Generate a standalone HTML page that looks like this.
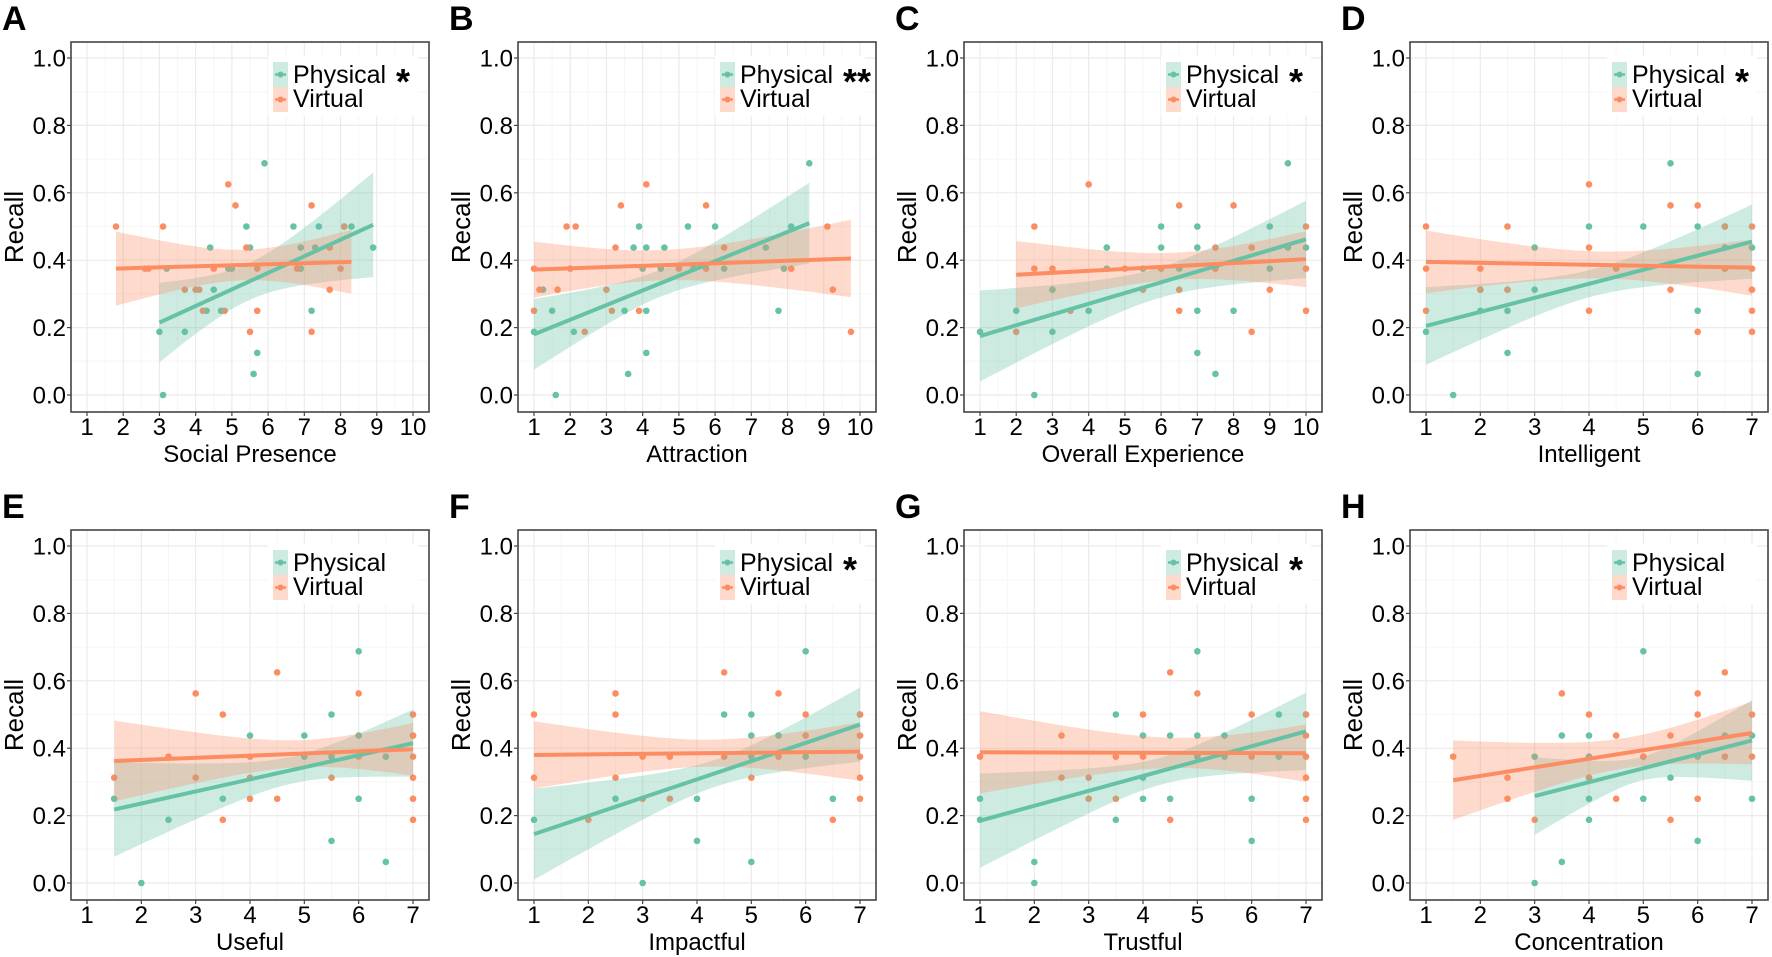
<!DOCTYPE html>
<html><head><meta charset="utf-8"><style>
html,body{margin:0;padding:0;background:#fff;overflow:hidden;width:1772px;height:957px;}
svg{display:block;font-family:"Liberation Sans",Arial,sans-serif;}
</style></head><body>
<svg id="fig" width="1772" height="957" viewBox="0 0 1772 957" xmlns="http://www.w3.org/2000/svg"></svg>
<script>
// ---------- DATA ----------
const A_phys_x=[3.0,3.1,3.2,3.7,4.4,4.5,4.3,4.7,5.0,5.4,5.5,5.7,5.6,5.9,6.7,6.9,6.9,7.2,7.4,7.3,8.1,8.3,8.9,4.9];
const A_phys_y=[.1875,0,.375,.1875,.4375,.3125,.25,.25,.375,.5,.4375,.125,.0625,.6875,.5,.4375,.375,.25,.5,.4375,.5,.5,.4375,.375];
const A_virt_x=[1.8,2.6,2.7,3.1,3.7,4.0,4.1,4.2,4.5,4.8,4.9,5.1,5.4,5.5,5.7,5.7,6.8,7.2,7.2,7.7,7.7,8.0,8.1];
const A_virt_y=[.5,.375,.375,.5,.3125,.3125,.3125,.25,.375,.25,.625,.5625,.4375,.1875,.25,.375,.375,.5625,.1875,.4375,.3125,.375,.5];
const A_fit_phys=[3,0.215,8.9,0.505]; const A_band_phys=[0.118,0.055,0.155];
const A_fit_virt=[1.8,0.375,8.3,0.395]; const A_band_virt=[0.11,0.045,0.095];

const B_phys_x=[1.0,1.25,1.5,1.6,2.1,3.5,3.6,3.75,3.9,4.0,4.1,4.1,4.1,4.5,4.6,5.25,5.4,6.0,6.25,7.4,7.75,7.9,8.1,8.6];
const B_phys_y=[.1875,.3125,.25,0,.1875,.25,.0625,.4375,.5,.375,.4375,.25,.125,.375,.4375,.5,.375,.5,.375,.4375,.25,.375,.5,.6875];
const B_virt_x=[1,1,1.15,1.65,1.9,2.0,2.15,2.4,3.0,3.15,3.25,3.4,3.9,4.1,5.0,5.75,5.75,6.25,8.1,9.1,9.25,9.75];
const B_virt_y=[.375,.25,.3125,.3125,.5,.375,.5,.1875,.3125,.25,.4375,.5625,.25,.625,.375,.5625,.375,.4375,.375,.5,.3125,.1875];
const B_fit_phys=[1,0.18,8.6,0.51]; const B_band_phys=[0.105,0.04,0.12];
const B_fit_virt=[1,0.372,9.75,0.405]; const B_band_virt=[0.083,0.045,0.115];

const C_phys_x=[1,2,2.5,3,3,4,4.5,4.5,5.5,6,6,6.5,7,7,7,7,7.5,8,9,9,9.5,9.5,10];
const C_phys_y=[.1875,.25,0,.3125,.1875,.25,.4375,.375,.375,.5,.4375,.375,.5,.4375,.25,.125,.0625,.25,.5,.375,.6875,.4375,.4375];
const C_virt_x=[2,2.5,2.5,3,3.5,4,5,5.5,6,6.5,6.5,6.5,7.5,7.5,8,8.5,8.5,9,10,10,10];
const C_virt_y=[.1875,.5,.375,.375,.25,.625,.375,.3125,.375,.5625,.3125,.25,.4375,.375,.5625,.4375,.1875,.3125,.5,.375,.25];
const C_fit_phys=[1,0.175,10,0.462]; const C_band_phys=[0.135,0.045,0.115];
const C_fit_virt=[2,0.357,10,0.403]; const C_band_virt=[0.10,0.04,0.083];

const D_phys_x=[1,1.5,2,2,2.5,2.5,2.5,3,3,4,5,5.5,6,6,6,6.5,6.5,7,6.5];
const D_phys_y=[.1875,0,.25,.3125,.25,.125,.3125,.4375,.3125,.5,.5,.6875,.5,.25,.0625,.5,.4375,.4375,.375];
const D_virt_x=[1,1,1,2,2,2.5,2.5,4,4,4,4.5,5.5,5.5,6,6,6.5,6.5,7,7,7,7,7];
const D_virt_y=[.5,.375,.25,.375,.3125,.5,.3125,.625,.4375,.25,.375,.5625,.3125,.5625,.1875,.5,.375,.5,.375,.3125,.25,.1875];
const D_fit_phys=[1,0.205,7,0.455]; const D_band_phys=[0.115,0.04,0.11];
const D_fit_virt=[1,0.395,7,0.378]; const D_band_virt=[0.093,0.04,0.083];

const E_phys_x=[1.5,2,2.5,3.5,4,5,5,5.5,5.5,5.5,6,6,6,6.5,6.5,7];
const E_phys_y=[.25,0,.1875,.25,.4375,.4375,.375,.5,.375,.125,.6875,.4375,.25,.375,.0625,.4375];
const E_virt_x=[1.5,2.5,3,3,3.5,3.5,4,4,4,4.5,4.5,5.5,6,6,7,7,7,7,7,7];
const E_virt_y=[.3125,.375,.5625,.3125,.5,.1875,.375,.3125,.25,.625,.25,.3125,.5625,.375,.5,.4375,.375,.3125,.25,.1875];
const E_fit_phys=[1.5,0.218,7,0.415]; const E_band_phys=[0.14,0.04,0.10];
const E_fit_virt=[1.5,0.362,7,0.397]; const E_band_virt=[0.12,0.04,0.078];

const F_phys_x=[1,2.5,3,4,4,4.5,5,5,5,5,5.5,6,6,6.5,7,7];
const F_phys_y=[.1875,.25,0,.25,.125,.5,.5,.4375,.375,.0625,.4375,.6875,.375,.25,.4375,.5];
const F_virt_x=[1,1,2,2.5,2.5,2.5,3,3,3.5,3.5,4.5,4.5,5,5.5,5.5,6,6,6.5,7,7,7,7,7];
const F_virt_y=[.5,.3125,.1875,.5625,.5,.3125,.375,.25,.375,.25,.625,.375,.3125,.5625,.375,.5,.4375,.1875,.5,.4375,.375,.3125,.25];
const F_fit_phys=[1,0.145,7,0.47]; const F_band_phys=[0.135,0.04,0.11];
const F_fit_virt=[1,0.38,7,0.39]; const F_band_virt=[0.10,0.04,0.087];

const G_phys_x=[1,1,2,2,3.5,3.5,4,4,4,4.5,4.5,5,5,5,5.5,5.5,6,6,6.5,6.5,7];
const G_phys_y=[.25,.1875,.0625,0,.5,.1875,.4375,.3125,.25,.4375,.25,.6875,.4375,.375,.4375,.375,.25,.125,.5,.375,.5];
const G_virt_x=[1,2.5,2.5,3,3,3.5,3.5,4,4,4.5,4.5,5,6,6,7,7,7,7,7,7];
const G_virt_y=[.375,.4375,.3125,.3125,.25,.375,.25,.5,.375,.625,.1875,.5625,.5,.375,.5,.4375,.375,.3125,.25,.1875];
const G_fit_phys=[1,0.185,7,0.45]; const G_band_phys=[0.14,0.04,0.115];
const G_fit_virt=[1,0.388,7,0.385]; const G_band_virt=[0.122,0.045,0.085];

const H_phys_x=[3,3,3.5,3.5,4,4,4,4,4,5,5,5,5.5,6,6,6.5,6.5,7,7];
const H_phys_y=[.375,0,.4375,.0625,.4375,.375,.3125,.25,.1875,.6875,.375,.25,.3125,.375,.125,.4375,.375,.4375,.25];
const H_virt_x=[1.5,2.5,2.5,3,3.5,4,4,4.5,4.5,5,5.5,5.5,6,6,6,6.5,6.5,7,7];
const H_virt_y=[.375,.3125,.25,.1875,.5625,.5,.3125,.4375,.25,.375,.4375,.1875,.5625,.5,.25,.625,.375,.5,.375];
const H_fit_phys=[3,0.258,7,0.423]; const H_band_phys=[0.115,0.035,0.12];
const H_fit_virt=[1.5,0.305,7,0.445]; const H_band_virt=[0.118,0.045,0.093];

const panelLetters=["A","B","C","D","E","F","G","H"];
const xTitles=["Social Presence","Attraction","Overall Experience","Intelligent","Useful","Impactful","Trustful","Concentration"];
const xMaxes=[10,10,10,7,7,7,7,7];
const stars=["*","**","*","*","","*","*",""];
const yTicks=[0,0.2,0.4,0.6,0.8,1.0];
const yTickLabels=["0.0","0.2","0.4","0.6","0.8","1.0"];

// ---------- RENDER ----------
const NS="http://www.w3.org/2000/svg";
const svg=document.getElementById('fig');
const GREEN="#66c2a5", ORANGE="#fc8d62";
function mk(tag,attrs,parent){const e=document.createElementNS(NS,tag);for(const k in attrs)e.setAttribute(k,attrs[k]);(parent||svg).appendChild(e);return e;}

const panels=[
 [A_phys_x,A_phys_y,A_virt_x,A_virt_y,A_fit_phys,A_band_phys,A_fit_virt,A_band_virt],
 [B_phys_x,B_phys_y,B_virt_x,B_virt_y,B_fit_phys,B_band_phys,B_fit_virt,B_band_virt],
 [C_phys_x,C_phys_y,C_virt_x,C_virt_y,C_fit_phys,C_band_phys,C_fit_virt,C_band_virt],
 [D_phys_x,D_phys_y,D_virt_x,D_virt_y,D_fit_phys,D_band_phys,D_fit_virt,D_band_virt],
 [E_phys_x,E_phys_y,E_virt_x,E_virt_y,E_fit_phys,E_band_phys,E_fit_virt,E_band_virt],
 [F_phys_x,F_phys_y,F_virt_x,F_virt_y,F_fit_phys,F_band_phys,F_fit_virt,F_band_virt],
 [G_phys_x,G_phys_y,G_virt_x,G_virt_y,G_fit_phys,G_band_phys,G_fit_virt,G_band_virt],
 [H_phys_x,H_phys_y,H_virt_x,H_virt_y,H_fit_phys,H_band_phys,H_fit_virt,H_band_virt]
];
const colOff=[0,447,893,1339];

function bandFn(fit,band){
  const x0=fit[0],x1=fit[2],h0=band[0],hm=band[1],h1=band[2];
  const a=Math.max(h0*h0-hm*hm,1e-6),b=Math.max(h1*h1-hm*hm,1e-6);
  const r=Math.sqrt(a/b);const xc=(x0+r*x1)/(1+r);
  const k=a/Math.max((xc-x0)*(xc-x0),1e-6);
  return x=>Math.sqrt(hm*hm+k*(x-xc)*(x-xc));
}

panels.forEach((p,i)=>{
  const ox=colOff[i%4], oy=(i<4?0:488);
  const g=mk('g',{transform:`translate(${ox},${oy})`});
  
  
  const L=71,T=42,R=429,B=412;
  const xMax=xMaxes[i];
  const sx=v=>87+(v-1)*(413-87)/(xMax-1);
  const sy=v=>395-v*(395-58);
  // letter
  const let_=mk('text',{x:2,y:30,'font-size':34,'font-weight':'bold'},g);
  let_.textContent=panelLetters[i];
  
  
  // grid
  const gg=mk('g',{},g);
  
  
  for(let v=0.1;v<1.05;v+=0.2) mk('line',{x1:L,x2:R,y1:sy(v),y2:sy(v),stroke:'#f6f6f6','stroke-width':1},gg);
  for(let v=1.5;v<xMax;v+=1) mk('line',{x1:sx(v),x2:sx(v),y1:T,y2:B,stroke:'#f6f6f6','stroke-width':1},gg);
  yTicks.forEach(v=>mk('line',{x1:L,x2:R,y1:sy(v),y2:sy(v),stroke:'#ebebeb','stroke-width':1.2},gg));
  for(let v=1;v<=xMax;v++) mk('line',{x1:sx(v),x2:sx(v),y1:T,y2:B,stroke:'#ebebeb','stroke-width':1.2},gg);
  // points
  const [px,py,vx,vy,fp,bp,fv,bv]=p;
  px.forEach((x,j)=>{const c=mk('circle',{cx:sx(x),cy:sy(py[j]),r:3.3,fill:GREEN},g);
    });
  vx.forEach((x,j)=>{const c=mk('circle',{cx:sx(x),cy:sy(vy[j]),r:3.3,fill:ORANGE},g);
    });
  // bands
  [[fp,bp,GREEN,'physical-ci-band'],[fv,bv,ORANGE,'virtual-ci-band']].forEach(([f,b,col,nm])=>{
    const h=bandFn(f,b);const N=30;let up=[],lo=[];
    for(let k=0;k<=N;k++){const x=f[0]+(f[2]-f[0])*k/N;const y=f[1]+(f[3]-f[1])*k/N;
      up.push(sx(x).toFixed(1)+','+sy(y+h(x)).toFixed(1));lo.unshift(sx(x).toFixed(1)+','+sy(y-h(x)).toFixed(1));}
    const pg=mk('polygon',{points:up.concat(lo).join(' '),fill:col,'fill-opacity':0.32},g);
    
  });
  // lines
  [[fp,GREEN,'physical-fit-line'],[fv,ORANGE,'virtual-fit-line']].forEach(([f,col,nm])=>{
    const ln=mk('line',{x1:sx(f[0]),y1:sy(f[1]),x2:sx(f[2]),y2:sy(f[3]),stroke:col,'stroke-width':4},g);
    
  });
  // frame
  const fr=mk('rect',{x:L,y:T,width:R-L,height:B-T,fill:'none',stroke:'#444','stroke-width':1.6},g);
  
  // y ticks
  yTicks.forEach((v,j)=>{
    mk('line',{x1:L-4,x2:L,y1:sy(v),y2:sy(v),stroke:'#444','stroke-width':1.2},g);
    const t=mk('text',{x:66,y:sy(v)+8.5,'font-size':24,'text-anchor':'end'},g);
    t.textContent=yTickLabels[j];
    
  });
  for(let v=1;v<=xMax;v++){
    mk('line',{x1:sx(v),x2:sx(v),y1:B,y2:B+4,stroke:'#444','stroke-width':1.2},g);
    const t=mk('text',{x:sx(v),y:435,'font-size':24,'text-anchor':'middle'},g);
    t.textContent=String(v);
    
  }
  const xt=mk('text',{x:(L+R)/2,y:462,'font-size':24,'text-anchor':'middle'},g);
  xt.textContent=xTitles[i];
  
  const yt=mk('text',{x:0,y:0,'font-size':26,'text-anchor':'middle',transform:`translate(23,${(T+B)/2}) rotate(-90)`},g);
  yt.textContent='Recall';
  
  // legend
  const lg=mk('g',{},g);
  
  mk('rect',{x:268,y:56,width:150,height:60,fill:'#fff'},lg);
  [[GREEN,62,'Physical',83],[ORANGE,87,'Virtual',107]].forEach(([col,ry,lab,by])=>{
    const e=mk('g',{},lg);
    
    mk('rect',{x:273,y:ry,width:15,height:25,fill:col,'fill-opacity':0.32},e);
    mk('line',{x1:275,x2:286,y1:ry+12.5,y2:ry+12.5,stroke:col,'stroke-width':2.5},e);
    mk('circle',{cx:280.5,cy:ry+12.5,r:3,fill:col},e);
    const t=mk('text',{x:293,y:by,'font-size':25},e);t.textContent=lab;
  });
  if(stars[i]){
    const s=mk('text',{x:396,y:94,'font-size':36,'font-weight':'bold'},lg);
    s.textContent=stars[i];
    
  }
});
</script>
</body></html>
